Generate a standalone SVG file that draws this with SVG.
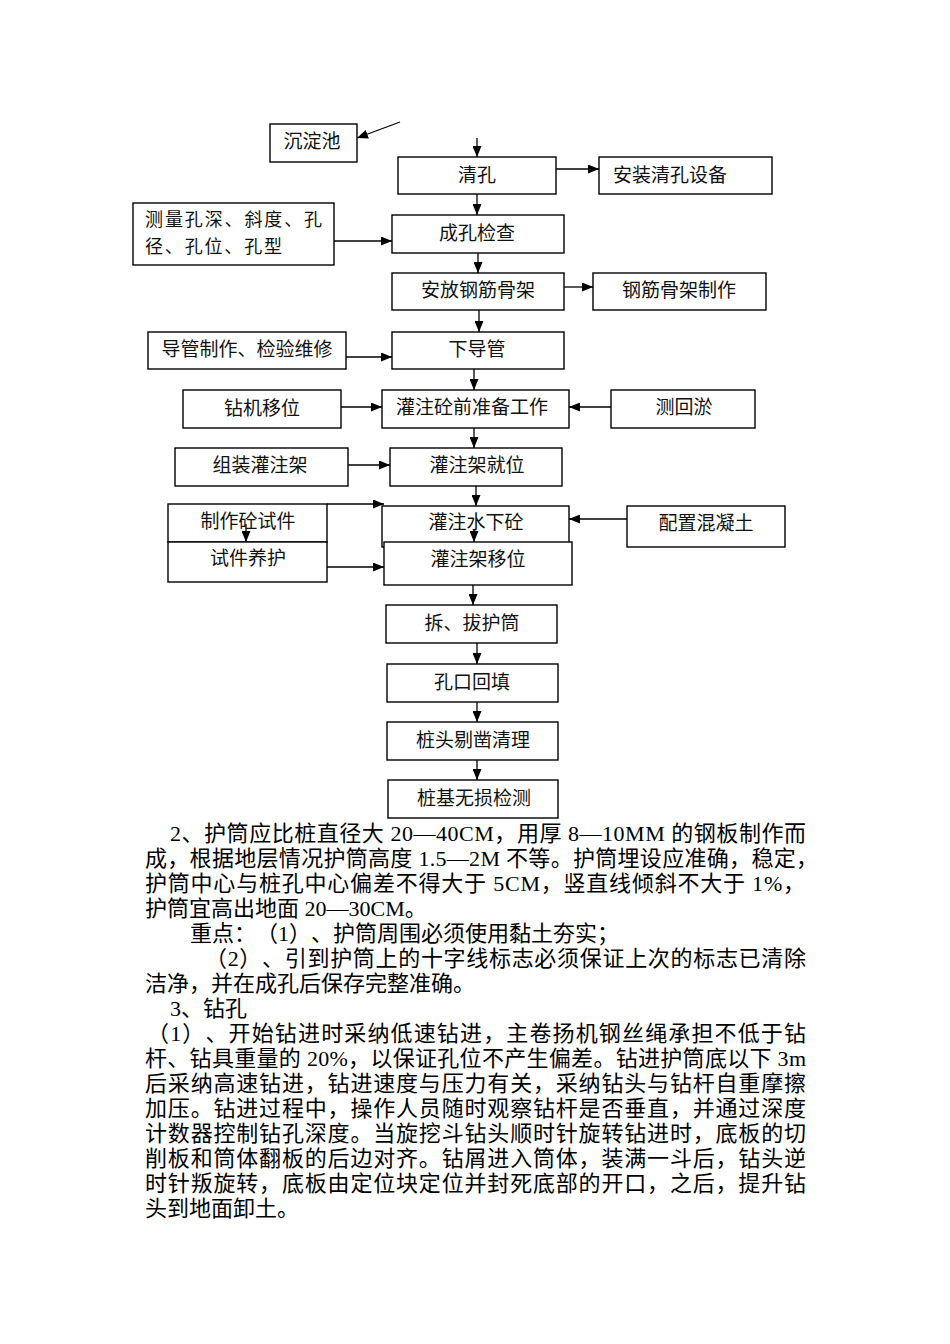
<svg xmlns="http://www.w3.org/2000/svg" width="950" height="1344" viewBox="0 0 950 1344">
<style>
text{text-spacing-trim:space-all}
.bx{fill:#fff;stroke:#000;stroke-width:1.4}
.t{font-family:"Noto Sans CJK SC","Liberation Sans",sans-serif;font-size:19px;fill:#111;text-anchor:middle}
.tl{text-anchor:start}
.sm{font-size:18px}
.c{stroke:#000;stroke-width:1.3;fill:none;marker-end:url(#ah)}
.p{font-family:"Liberation Serif","Noto Sans CJK SC",serif;font-size:22px;fill:#000}
</style>
<defs>
<marker id="ah" markerUnits="userSpaceOnUse" markerWidth="11" markerHeight="9" refX="11" refY="4.5" orient="auto">
<path d="M0,0 L11,4.5 L0,9 z" fill="#000"/>
</marker>
</defs>
<rect width="950" height="1344" fill="#fff"/>

<g id="n-chendianchi"><rect class="bx" x="270" y="124" width="87" height="38"/><text class="t" x="312" y="148">沉淀池</text></g>
<g id="n-qingkong"><rect class="bx" x="398" y="157" width="158" height="37"/><text class="t" x="477" y="182">清孔</text></g>
<g id="n-anzhuang"><rect class="bx" x="599" y="157" width="173" height="37"/><text class="t tl" x="613" y="182">安装清孔设备</text></g>
<g id="n-celiang"><rect class="bx" x="133" y="203" width="201" height="62"/><text class="t tl sm" x="145" y="226" textLength="177" lengthAdjust="spacing">测量孔深、斜度、孔</text><text class="t tl sm" x="145" y="253" textLength="137" lengthAdjust="spacing">径、孔位、孔型</text></g>
<g id="n-chengkong"><rect class="bx" x="392" y="215" width="172" height="38"/><text class="t" x="477" y="240">成孔检查</text></g>
<g id="n-anfang"><rect class="bx" x="392" y="273" width="172" height="37"/><text class="t" x="478" y="297">安放钢筋骨架</text></g>
<g id="n-gangjin"><rect class="bx" x="593" y="273" width="173" height="37"/><text class="t" x="679" y="297">钢筋骨架制作</text></g>
<g id="n-daoguanzhizuo"><rect class="bx" x="148" y="332" width="198" height="37"/><text class="t" x="247" y="356">导管制作、检验维修</text></g>
<g id="n-xiadaoguan"><rect class="bx" x="392" y="332" width="172" height="37"/><text class="t" x="477" y="356">下导管</text></g>
<g id="n-zuanji"><rect class="bx" x="183" y="390" width="158" height="38"/><text class="t" x="262" y="415">钻机移位</text></g>
<g id="n-zhunbei"><rect class="bx" x="382" y="390" width="187" height="38"/><text class="t" x="472" y="414">灌注砼前准备工作</text></g>
<g id="n-cehuiyu"><rect class="bx" x="611" y="390" width="144" height="38"/><text class="t" x="684" y="414">测回淤</text></g>
<g id="n-zuzhuang"><rect class="bx" x="175" y="448" width="173" height="38"/><text class="t" x="260" y="472">组装灌注架</text></g>
<g id="n-jiuwei"><rect class="bx" x="390" y="448" width="172" height="38"/><text class="t" x="477" y="472">灌注架就位</text></g>
<g id="n-zhizuoshijian"><rect class="bx" x="168" y="504" width="159" height="38"/><text class="t" x="248" y="528">制作砼试件</text></g>
<g id="n-shuixiatong"><rect class="bx" x="382" y="506" width="187" height="41"/><text class="t" x="476" y="529">灌注水下砼</text></g>
<g id="n-peizhi"><rect class="bx" x="627" y="506" width="158" height="41"/><text class="t" x="706" y="530">配置混凝土</text></g>
<g id="n-yanghu"><rect class="bx" x="168" y="542" width="159" height="40"/><text class="t" x="248" y="565">试件养护</text></g>
<g id="n-yiwei"><rect class="bx" x="384" y="542" width="188" height="43"/><text class="t" x="478" y="566">灌注架移位</text></g>
<g id="n-chaiba"><rect class="bx" x="386" y="605" width="171" height="38"/><text class="t" x="472" y="630">拆、拔护筒</text></g>
<g id="n-huitian"><rect class="bx" x="387" y="664" width="171" height="38"/><text class="t" x="472" y="689">孔口回填</text></g>
<g id="n-tizao"><rect class="bx" x="387" y="722" width="171" height="38"/><text class="t" x="473" y="747">桩头剔凿清理</text></g>
<g id="n-jiance"><rect class="bx" x="388" y="780" width="170" height="38"/><text class="t" x="474" y="805">桩基无损检测</text></g>

<g id="connectors">
<line class="c" x1="400" y1="122" x2="357" y2="138"/>
<line class="c" x1="477" y1="138" x2="477" y2="157"/>
<line class="c" x1="556" y1="169" x2="599" y2="169"/>
<line class="c" x1="477" y1="194" x2="477" y2="215"/>
<line class="c" x1="334" y1="241" x2="392" y2="241"/>
<line class="c" x1="478" y1="253" x2="478" y2="273"/>
<line class="c" x1="564" y1="287" x2="593" y2="287"/>
<line class="c" x1="479" y1="310" x2="479" y2="332"/>
<line class="c" x1="346" y1="357" x2="392" y2="357"/>
<line class="c" x1="474" y1="369" x2="474" y2="390"/>
<line class="c" x1="341" y1="407" x2="382" y2="407"/>
<line class="c" x1="611" y1="407" x2="569" y2="407"/>
<line class="c" x1="474" y1="428" x2="474" y2="448"/>
<line class="c" x1="348" y1="465" x2="390" y2="465"/>
<line class="c" x1="476" y1="486" x2="476" y2="506"/>
<line class="c" x1="327" y1="504" x2="384" y2="504"/>
<line class="c" x1="627" y1="519" x2="569" y2="519"/>
<line class="c" x1="246" y1="524" x2="246" y2="542"/>
<line class="c" x1="474" y1="529" x2="474" y2="542"/>
<line class="c" x1="327" y1="567" x2="384" y2="567"/>
<line class="c" x1="473" y1="585" x2="473" y2="605"/>
<line class="c" x1="477" y1="643" x2="477" y2="664"/>
<line class="c" x1="477" y1="702" x2="477" y2="722"/>
<line class="c" x1="477" y1="760" x2="477" y2="780"/>
</g>

<g id="text-body">
<text class="p" x="170" y="841" textLength="636" lengthAdjust="spacing">2、护筒应比桩直径大 20—40CM，用厚 8—10MM 的钢板制作而</text>
<text class="p" x="145" y="866" textLength="673" lengthAdjust="spacing">成，根据地层情况护筒高度 1.5—2M 不等。护筒埋设应准确，稳定，</text>
<text class="p" x="145" y="891" textLength="660" lengthAdjust="spacing">护筒中心与桩孔中心偏差不得大于 5CM，竖直线倾斜不大于 1%，</text>
<text class="p" x="145" y="916">护筒宜高出地面 20—30CM。</text>
<text class="p" x="190" y="941">重点：（1）、护筒周围必须使用黏土夯实；</text>
<text class="p" x="205" y="966" textLength="601" lengthAdjust="spacing">（2）、引到护筒上的十字线标志必须保证上次的标志已清除</text>
<text class="p" x="145" y="991">洁净，并在成孔后保存完整准确。</text>
<text class="p" x="170" y="1016">3、钻孔</text>
<text class="p" x="147" y="1041" textLength="659" lengthAdjust="spacing">（1）、开始钻进时采纳低速钻进，主卷扬机钢丝绳承担不低于钻</text>
<text class="p" x="145" y="1066" textLength="661" lengthAdjust="spacing">杆、钻具重量的 20%，以保证孔位不产生偏差。钻进护筒底以下 3m</text>
<text class="p" x="145" y="1091" textLength="661" lengthAdjust="spacing">后采纳高速钻进，钻进速度与压力有关，采纳钻头与钻杆自重摩擦</text>
<text class="p" x="145" y="1116" textLength="661" lengthAdjust="spacing">加压。钻进过程中，操作人员随时观察钻杆是否垂直，并通过深度</text>
<text class="p" x="145" y="1141" textLength="661" lengthAdjust="spacing">计数器控制钻孔深度。当旋挖斗钻头顺时针旋转钻进时，底板的切</text>
<text class="p" x="145" y="1166" textLength="661" lengthAdjust="spacing">削板和筒体翻板的后边对齐。钻屑进入筒体，装满一斗后，钻头逆</text>
<text class="p" x="145" y="1191" textLength="661" lengthAdjust="spacing">时针叛旋转，底板由定位块定位并封死底部的开口，之后，提升钻</text>
<text class="p" x="145" y="1216">头到地面卸土。</text>
</g>
</svg>
